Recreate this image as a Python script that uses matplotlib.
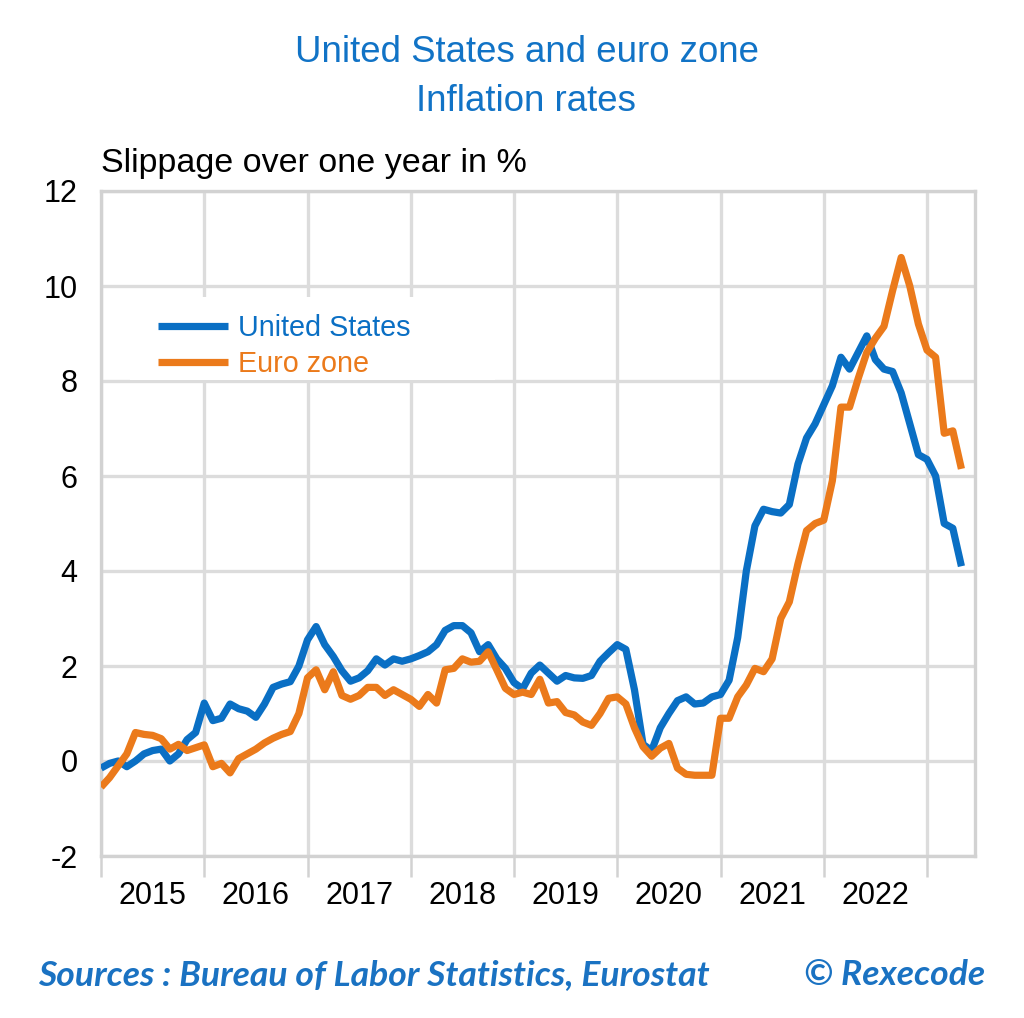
import matplotlib
matplotlib.use("Agg")
import matplotlib.pyplot as plt
from matplotlib import font_manager as fm
from matplotlib.patches import Rectangle
import numpy as np

# ---------------- data ----------------
start_year = 2015
us = [
    -0.15, -0.05, 0.0, -0.12, 0.0, 0.15, 0.22, 0.25, 0.0, 0.15, 0.45, 0.6,      # 2015
    1.22, 0.85, 0.9, 1.2, 1.1, 1.05, 0.92, 1.2, 1.55, 1.62, 1.67, 2.0,          # 2016
    2.55, 2.83, 2.45, 2.2, 1.9, 1.68, 1.75, 1.9, 2.15, 2.02, 2.15, 2.1,         # 2017
    2.15, 2.22, 2.3, 2.45, 2.75, 2.85, 2.85, 2.7, 2.3, 2.45, 2.15, 1.95,        # 2018
    1.65, 1.52, 1.85, 2.02, 1.85, 1.68, 1.8, 1.75, 1.74, 1.8, 2.1, 2.28,        # 2019
    2.45, 2.35, 1.5, 0.35, 0.22, 0.7, 1.0, 1.27, 1.35, 1.2, 1.22, 1.35,         # 2020
    1.4, 1.7, 2.6, 4.0, 4.95, 5.3, 5.25, 5.22, 5.4, 6.25, 6.8, 7.1,             # 2021
    7.5, 7.9, 8.5, 8.25, 8.6, 8.95, 8.45, 8.25, 8.2, 7.75, 7.1, 6.45,           # 2022
    6.35, 6.0, 5.0, 4.9, 4.1,                                                   # 2023
]
euro = [
    -0.55, -0.35, -0.1, 0.15, 0.6, 0.56, 0.54, 0.47, 0.25, 0.35, 0.22, 0.28,    # 2015
    0.34, -0.12, -0.05, -0.25, 0.05, 0.15, 0.25, 0.38, 0.48, 0.56, 0.62, 1.0,   # 2016
    1.75, 1.92, 1.5, 1.88, 1.38, 1.3, 1.38, 1.55, 1.55, 1.38, 1.5, 1.4,         # 2017
    1.3, 1.15, 1.4, 1.22, 1.92, 1.95, 2.15, 2.08, 2.1, 2.3, 1.92, 1.53,         # 2018
    1.4, 1.45, 1.4, 1.72, 1.22, 1.25, 1.02, 0.97, 0.82, 0.75, 1.0, 1.32,        # 2019
    1.35, 1.2, 0.7, 0.3, 0.1, 0.27, 0.37, -0.15, -0.28, -0.3, -0.3, -0.3,       # 2020
    0.9, 0.9, 1.35, 1.6, 1.95, 1.88, 2.15, 3.0, 3.35, 4.15, 4.85, 5.0,          # 2021
    5.07, 5.9, 7.45, 7.45, 8.05, 8.6, 8.9, 9.15, 9.9, 10.6, 10.0, 9.2,          # 2022
    8.65, 8.5, 6.9, 6.95, 6.15,                                                 # 2023
]
year_labels = ["2015", "2016", "2017", "2018", "2019", "2020", "2021", "2022"]
year_ticks = list(range(2015, 2024))
ytick_values = [-2, 0, 2, 4, 6, 8, 10, 12]
ytick_labels = ["-2", "0", "2", "4", "6", "8", "10", "12"]
series_names = ["United States", "Euro zone"]
title_lines = ["United States and euro zone", "Inflation rates"]
subtitle = "Slippage over one year in %"
source_text = "Sources : Bureau of Labor Statistics, Eurostat"
copyright_text = "\u00a9 Rexecode"

# ---------------- style ----------------
BLUE = "#0A6FC4"
ORANGE = "#EB7A1B"
TITLE_BLUE = "#1173C6"
GRID = "#DCDCDC"

names = {f.name for f in fm.fontManager.ttflist}
MAIN = "Liberation Sans Narrow" if "Liberation Sans Narrow" in names else "Liberation Sans"
SRC = "Lato" if "Lato" in names else "Liberation Sans"

W, H = 1024, 1018
fig = plt.figure(figsize=(W / 100, H / 100), dpi=100)
renderer = fig.canvas.get_renderer()


def fit_size(s, target_px, family, weight="normal", style="normal"):
    t = fig.text(0, 0, s, fontsize=20, family=family, weight=weight, style=style)
    w = t.get_window_extent(renderer).width
    t.remove()
    return 20 * target_px / w


def fx(px):
    return px / W


def fy(py):
    return 1 - py / H


ax = fig.add_axes([fx(101), fy(856), fx(975) - fx(101), fy(191) - fy(856)])

x = start_year + np.arange(len(us)) / 12.0
ax.plot(x, us, color=BLUE, lw=5.2, solid_joinstyle="round", solid_capstyle="butt",
        label=series_names[0], zorder=3)
ax.plot(x, euro, color=ORANGE, lw=5.2, solid_joinstyle="round", solid_capstyle="butt",
        label=series_names[1], zorder=3)

ax.set_xlim(2015.0, 2015.0 + (975 - 101) / 103.25)
ax.set_ylim(-2, 12)

ax.set_axisbelow(True)
ax.grid(True, which="major", color=GRID, lw=2.4)
for sp in ax.spines.values():
    sp.set_color("#D2D2D2")
    sp.set_linewidth(2.4)

tick_fs = fit_size("2015", 68, MAIN)
ax.set_yticks(ytick_values)
ax.set_yticklabels(ytick_labels, fontsize=tick_fs, family=MAIN, color="black")
ax.tick_params(axis="y", length=0, pad=17)

ax.set_xticks(year_ticks)
ax.set_xticklabels([])
ax.set_xticks([y + 0.5 for y in range(2015, 2023)], minor=True)
ax.set_xticklabels(year_labels, minor=True, fontsize=tick_fs, family=MAIN, color="black")
ax.tick_params(axis="x", which="major", length=15, width=1.8, color="#D2D2D2", direction="out")
ax.tick_params(axis="x", which="minor", length=0, pad=18)

# legend with white mask behind
ax.add_patch(Rectangle((fx(130), fy(380)), fx(495) - fx(130), fy(297) - fy(380),
                       transform=fig.transFigure, facecolor="white", edgecolor="none", zorder=1))
leg_fs = fit_size("United States", 172, MAIN)
leg_fs_px = leg_fs * 100 / 72
leg = ax.legend(loc="upper left", bbox_to_anchor=(fx(158), fy(314)), bbox_transform=fig.transFigure,
                frameon=False, borderpad=0, borderaxespad=0,
                handlelength=70 / leg_fs_px, handletextpad=10 / leg_fs_px,
                labelspacing=0.27, prop={"family": MAIN, "size": leg_fs},
                labelcolor="linecolor")
for h in leg.get_lines():
    h.set_linewidth(5.2)
leg.set_zorder(5)

# titles
t1 = fit_size(title_lines[0], 462, MAIN)
fig.text(fx(527), fy(62), title_lines[0], fontsize=t1, family=MAIN, color=TITLE_BLUE,
         ha="center", va="baseline")
fig.text(fx(526), fy(111), title_lines[1], fontsize=t1, family=MAIN, color=TITLE_BLUE,
         ha="center", va="baseline")
st = fit_size(subtitle, 424, MAIN)
fig.text(fx(101), fy(172), subtitle, fontsize=st, family=MAIN, color="black",
         ha="left", va="baseline")

ss = fit_size(source_text, 670, SRC, weight="bold", style="italic")
fig.text(fx(38), fy(985), source_text, fontsize=ss, family=SRC, weight="bold", style="italic",
         color="#1A72C2", ha="left", va="baseline")
fig.text(fx(985), fy(985), copyright_text, fontsize=ss, family=SRC, weight="bold", style="italic",
         color="#1A72C2", ha="right", va="baseline")

fig.savefig("out.png", dpi=100, facecolor="white")
